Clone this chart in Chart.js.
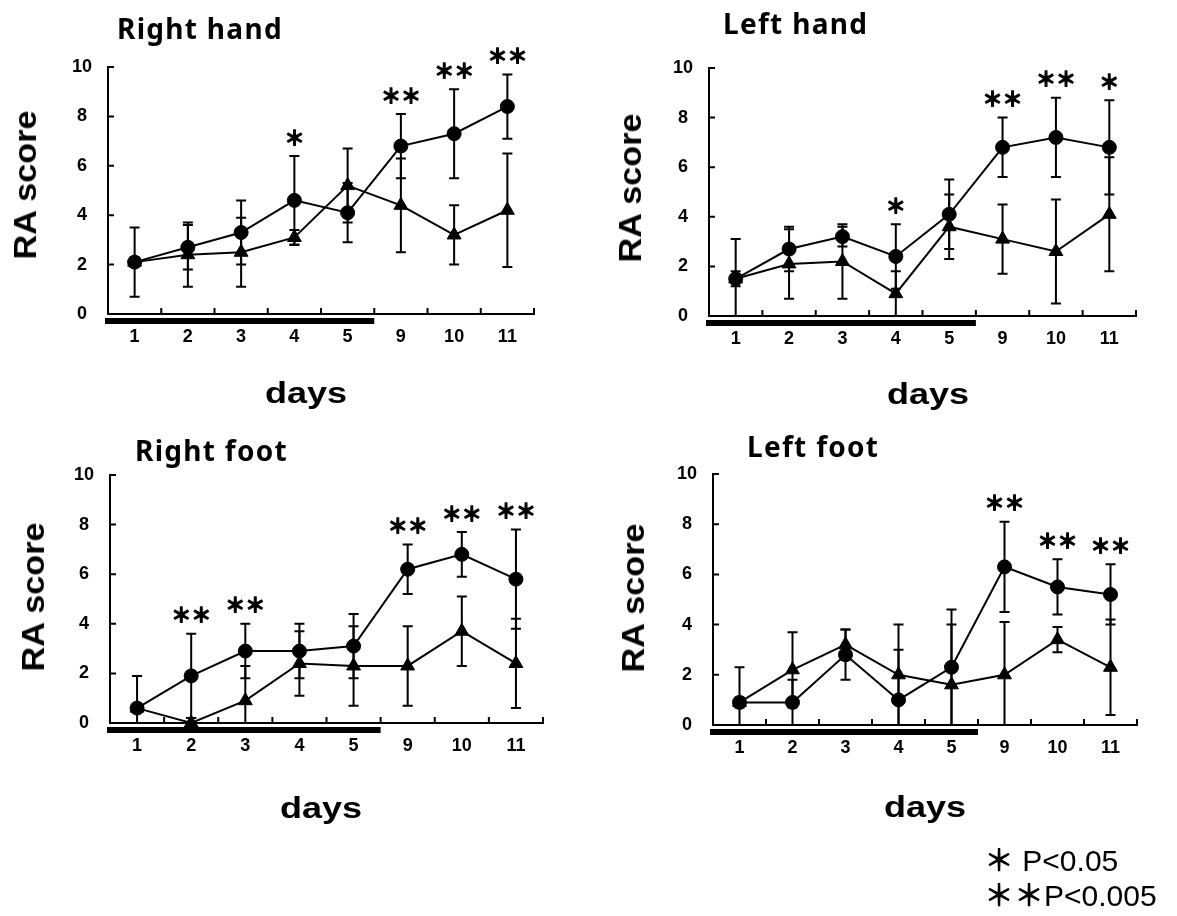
<!DOCTYPE html>
<html>
<head>
<meta charset="utf-8">
<script src="https://cdn.jsdelivr.net/npm/chart.js@4.4.0/dist/chart.umd.min.js"></script>
<style>
  body { margin: 0; background: #fff; width: 1177px; height: 916px; position: relative; overflow: hidden; }
  canvas { position: absolute; }
  .title { position: absolute; font-family: 'Noto Sans', sans-serif; font-weight: 700; font-size: 28px; line-height: 1; letter-spacing: 1.3px; white-space: nowrap; color: #000; }
  .ylab { position: absolute; font-family: 'Liberation Sans', Arial, sans-serif; font-weight: 700; font-size: 32px; line-height: 1; white-space: nowrap; transform: translate(-50%, -50%) rotate(-90deg) scaleX(1.07); color: #000; }
  .xlab { position: absolute; font-family: 'Liberation Sans', Arial, sans-serif; font-weight: 700; font-size: 30px; line-height: 1; white-space: nowrap; transform: translateX(-50%) scaleX(1.2); color: #000; }
  .note { position: absolute; font-family: 'Liberation Sans', 'Noto Sans CJK JP', sans-serif; font-size: 30px; line-height: 1; white-space: nowrap; color: #000; }
  .note b { font-family: 'Noto Sans CJK JP', sans-serif; font-weight: 700; }
</style>
</head>
<body>
<canvas id="rightHand" width="590" height="440" style="left:0;top:0"></canvas>
<canvas id="leftHand" width="587" height="440" style="left:590px;top:0"></canvas>
<canvas id="rightFoot" width="590" height="476" style="left:0;top:440px"></canvas>
<canvas id="leftFoot" width="587" height="476" style="left:590px;top:440px"></canvas>

<div class="title" style="left:117px;top:14px">Right hand</div>
<div class="title" style="left:723px;top:9px">Left hand</div>
<div class="title" style="left:135px;top:436px">Right foot</div>
<div class="title" style="left:747px;top:432px">Left foot</div>

<div class="ylab" style="left:25px;top:185px">RA score</div>
<div class="ylab" style="left:630px;top:188px">RA score</div>
<div class="ylab" style="left:33px;top:597px">RA score</div>
<div class="ylab" style="left:633px;top:598px">RA score</div>

<div class="xlab" style="left:306px;top:378px">days</div>
<div class="xlab" style="left:928px;top:379px">days</div>
<div class="xlab" style="left:321px;top:793px">days</div>
<div class="xlab" style="left:925px;top:792px">days</div>

<div class="note" style="left:984px;top:843px"><b>＊</b> P&lt;0.05</div>
<div class="note" style="left:984px;top:878px"><b>＊＊</b>P&lt;0.005</div>

<script>
// days on the x axis, and the treatment period (thick bar under the axis)
const days = ['1', '2', '3', '4', '5', '9', '10', '11'];
const treatmentDays = ['1', '2', '3', '4', '5'];
const yTicks = [0, 2, 4, 6, 8, 10];

// Right hand
const rhCircle = [2.1, 2.7, 3.3, 4.6, 4.1, 6.8, 7.3, 8.4];
const rhCircleErr = [1.4, 0.9, 1.3, 1.8, 1.2, 1.3, 1.8, 1.3];
const rhTriangle = [2.1, 2.4, 2.5, 3.1, 5.2, 4.4, 3.2, 4.2];
const rhTriangleErr = [0.2, 1.3, 1.4, 0.3, 1.5, 1.9, 1.2, 2.3];
const rhSig = ['', '', '', '*', '', '**', '**', '**'];

// Left hand
const lhCircle = [1.5, 2.7, 3.2, 2.4, 4.1, 6.8, 7.2, 6.8];
const lhCircleErr = [1.6, 0.9, 0.4, 1.3, 1.4, 1.2, 1.6, 1.9];
const lhTriangle = [1.5, 2.1, 2.2, 0.9, 3.6, 3.1, 2.6, 4.1];
const lhTriangleErr = [0.3, 1.4, 1.5, 0.9, 1.3, 1.4, 2.1, 2.3];
const lhSig = ['', '', '', '*', '', '**', '**', '*'];

// Right foot
const rfCircle = [0.6, 1.9, 2.9, 2.9, 3.1, 6.2, 6.8, 5.8];
const rfCircleErr = [1.3, 1.7, 1.1, 1.1, 1.3, 1.0, 0.9, 2.0];
const rfTriangle = [0.6, 0.0, 0.9, 2.4, 2.3, 2.3, 3.7, 2.4];
const rfTriangleErr = [0.1, 0.2, 1.4, 1.3, 1.6, 1.6, 1.4, 1.8];
const rfSig = ['', '**', '**', '', '', '**', '**', '**'];

// Left foot
const lfCircle = [0.9, 0.9, 2.8, 1.0, 2.3, 6.3, 5.5, 5.2];
const lfCircleErr = [1.4, 0.9, 1.0, 2.0, 2.3, 1.8, 1.1, 1.2];
const lfTriangle = [0.9, 2.2, 3.2, 2.0, 1.6, 2.0, 3.4, 2.3];
const lfTriangleErr = [0.2, 1.5, 0.6, 2.0, 2.4, 2.1, 0.5, 1.9];
const lfSig = ['', '', '', '', '', '**', '**', '**'];

const tickFont = { family: "'Liberation Sans', Arial, sans-serif", weight: 'bold', size: 18 };

// error bars, inward tick marks, treatment bar and significance stars
const extras = {
    id: 'extras',
    beforeDatasetsDraw(chart) {
        const { ctx, chartArea: a, scales: { x, y } } = chart;
        ctx.save();
        ctx.beginPath();
        ctx.rect(a.left, a.top, a.right - a.left, a.bottom - a.top + 1);
        ctx.clip();
        ctx.strokeStyle = '#000';
        ctx.lineWidth = 2;
        chart.data.datasets.forEach(ds => {
            ds.errors.forEach((e, i) => {
                const px = x.getPixelForValue(i);
                const top = y.getPixelForValue(ds.data[i] + e);
                const bot = y.getPixelForValue(ds.data[i] - e);
                ctx.beginPath();
                ctx.moveTo(px, top); ctx.lineTo(px, bot);
                ctx.moveTo(px - 5, top); ctx.lineTo(px + 5, top);
                ctx.moveTo(px - 5, bot); ctx.lineTo(px + 5, bot);
                ctx.stroke();
            });
        });
        ctx.restore();
    },
    afterDraw(chart) {
        const { ctx, chartArea: a, scales: { x, y } } = chart;
        ctx.save();
        ctx.strokeStyle = '#000';
        ctx.fillStyle = '#000';
        ctx.lineWidth = 2;
        // inward ticks
        ctx.beginPath();
        yTicks.forEach(v => {
            const py = y.getPixelForValue(v);
            ctx.moveTo(a.left, py); ctx.lineTo(a.left + 6, py);
        });
        for (let k = 0; k < days.length; k++) {
            const px = x.getPixelForValue(k + 0.5);
            ctx.moveTo(px, a.bottom); ctx.lineTo(px, a.bottom - 6);
        }
        ctx.stroke();
        // treatment bar
        const end = x.getPixelForValue(days.indexOf(treatmentDays[treatmentDays.length - 1]) + 0.5);
        ctx.fillRect(a.left - 3, a.bottom + 4, end - a.left + 3, 6);
        // stars
        const sig = chart.options.plugins.extras.sig;
        ctx.font = "bold 20px 'Noto Sans CJK JP'";
        ctx.textAlign = 'center';
        ctx.textBaseline = 'middle';
        ctx.lineWidth = 1.3;
        sig.forEach((s, i) => {
            if (!s) return;
            const px = x.getPixelForValue(i);
            let top = Infinity;
            chart.data.datasets.forEach(ds => {
                top = Math.min(top, y.getPixelForValue(ds.data[i] + ds.errors[i]));
            });
            const cy = top - 18;
            const n = s.length;
            for (let j = 0; j < n; j++) {
                const sx = px + (j - (n - 1) / 2) * 20;
                ctx.fillText('＊', sx, cy);
                ctx.strokeText('＊', sx, cy);
            }
        });
        ctx.restore();
    }
};

const makePanel = (id, circle, circleErr, triangle, triangleErr, sig, padding) => {
    const ctx = document.getElementById(id).getContext('2d');
    new Chart(ctx, {
        type: 'line',
        data: {
            labels: days,
            datasets: [{
                label: 'circle',
                data: circle,
                errors: circleErr,
                borderColor: '#000',
                borderWidth: 2,
                pointStyle: 'circle',
                pointRadius: 7,
                pointBackgroundColor: '#000',
                pointBorderColor: '#000',
                pointBorderWidth: 1,
                tension: 0,
                clip: false
            }, {
                label: 'triangle',
                data: triangle,
                errors: triangleErr,
                borderColor: '#000',
                borderWidth: 2,
                pointStyle: 'triangle',
                pointRadius: 8,
                pointBackgroundColor: '#000',
                pointBorderColor: '#000',
                pointBorderWidth: 1,
                tension: 0,
                clip: false
            }]
        },
        options: {
            responsive: false,
            animation: false,
            events: [],
            layout: { padding },
            plugins: {
                legend: { display: false },
                tooltip: { enabled: false },
                extras: { sig }
            },
            scales: {
                x: {
                    type: 'category',
                    offset: true,
                    grid: { display: false, drawTicks: false },
                    border: { display: true, color: '#000', width: 2 },
                    ticks: { color: '#000', font: tickFont, padding: 12, maxRotation: 0, autoSkip: false },
                    afterFit: (scale) => { scale.height = 40; }
                },
                y: {
                    min: 0,
                    max: 10,
                    grid: { display: false, drawTicks: false },
                    border: { display: true, color: '#000', width: 2 },
                    ticks: { color: '#000', font: tickFont, stepSize: 2, crossAlign: 'center', padding: 16 },
                    afterFit: (scale) => { scale.width = 60; }
                }
            }
        },
        plugins: [extras]
    });
};

makePanel('rightHand', rhCircle, rhCircleErr, rhTriangle, rhTriangleErr, rhSig, { left: 48, right: 56, top: 67, bottom: 86 });
makePanel('leftHand', lhCircle, lhCircleErr, lhTriangle, lhTriangleErr, lhSig, { left: 59, right: 41, top: 68, bottom: 84 });
makePanel('rightFoot', rfCircle, rfCircleErr, rfTriangle, rfTriangleErr, rfSig, { left: 50, right: 47, top: 35, bottom: 153 });
makePanel('leftFoot', lfCircle, lfCircleErr, lfTriangle, lfTriangleErr, lfSig, { left: 63, right: 40, top: 34, bottom: 151 });
</script>
</body>
</html>
